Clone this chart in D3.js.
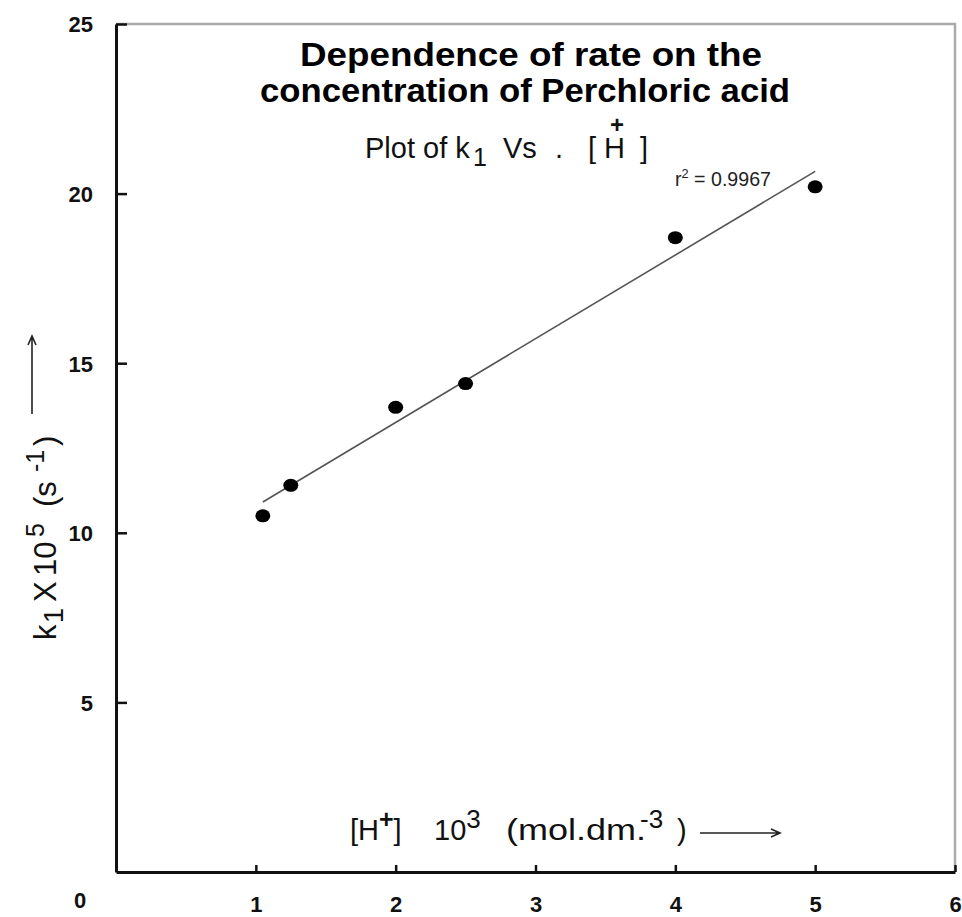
<!DOCTYPE html>
<html lang="en">
<head>
    <meta charset="UTF-8">
    <title>Dependence of rate on the concentration of Perchloric acid</title>
    <script src="https://d3js.org/d3.v7.min.js"></script>
    <style>
        body {
            margin: 0;
            background: #fff;
        }
        svg {
            display: block;
            font-family: "Liberation Sans", Arial, sans-serif;
        }
        .tick text {
            font-size: 22px;
            font-weight: bold;
            fill: #111;
        }
        .tick line {
            stroke: #111;
            stroke-width: 2.5;
        }
        .domain {
            stroke: #111;
            stroke-width: 3;
        }
    </style>
</head>
<body>

<svg id="chart"></svg>

<script>
    // [H+] x 10^3 (mol dm^-3) and k1 x 10^5 (s^-1)
    const hConc = [1.05, 1.25, 2, 2.5, 4, 5];
    const k1 = [10.5, 11.4, 13.7, 14.4, 18.7, 20.2];

    const xTicks = [1, 2, 3, 4, 5, 6];
    const yTicks = [5, 10, 15, 20, 25];
    const rSquared = "0.9967";

    const svgWidth = 962;
    const svgHeight = 917;
    const margin = {top: 24, right: 7, bottom: 45, left: 116};
    const chartWidth = svgWidth - margin.left - margin.right;
    const chartHeight = svgHeight - margin.top - margin.bottom;

    const xScale = d3.scaleLinear()
        .domain([0, 6])
        .range([0, chartWidth]);

    const yScale = d3.scaleLinear()
        .domain([0, 25])
        .range([chartHeight, 0]);

    const root = d3.select("#chart")
        .attr("width", svgWidth)
        .attr("height", svgHeight);

    const svg = root.append("g")
        .attr("transform", `translate(${margin.left},${margin.top})`);

    // grey frame on top and right
    svg.append("path")
        .attr("d", `M0,0 H${chartWidth} V${chartHeight}`)
        .attr("fill", "none")
        .attr("stroke", "#aaa")
        .attr("stroke-width", 2.5);

    svg.append("g")
        .attr("transform", `translate(0,${chartHeight})`)
        .call(d3.axisBottom(xScale).tickValues(xTicks).tickFormat(d3.format("d"))
            .tickSizeInner(-7).tickSizeOuter(0).tickPadding(24));

    svg.append("g")
        .call(d3.axisLeft(yScale).tickValues(yTicks).tickFormat(d3.format("d"))
            .tickSizeInner(-11).tickSizeOuter(0).tickPadding(23))
        .selectAll(".tick text").attr("dy", "0.36em");

    // the lone origin label sits below the corner
    svg.append("text")
        .attr("x", xScale(0) - 36)
        .attr("y", chartHeight + 36)
        .attr("text-anchor", "middle")
        .attr("font-size", 22)
        .attr("font-weight", "bold")
        .attr("fill", "#111")
        .text("0");

    // least squares line through the points
    const mx = d3.mean(hConc), my = d3.mean(k1);
    const sxy = d3.sum(hConc, (d, i) => (d - mx) * (k1[i] - my));
    const sxx = d3.sum(hConc, d => (d - mx) * (d - mx));
    const slope = sxy / sxx;
    const intercept = my - slope * mx;
    const xr = d3.extent(hConc);

    svg.append("line")
        .attr("x1", xScale(xr[0]))
        .attr("y1", yScale(intercept + slope * xr[0]))
        .attr("x2", xScale(xr[1]))
        .attr("y2", yScale(intercept + slope * xr[1]))
        .attr("stroke", "#555")
        .attr("stroke-width", 1.6);

    svg.selectAll(".pt")
        .data(hConc)
        .enter()
        .append("ellipse")
        .attr("class", "pt")
        .attr("cx", d => xScale(d))
        .attr("cy", (d, i) => yScale(k1[i]))
        .attr("rx", 7.5)
        .attr("ry", 6.5)
        .attr("fill", "#000");

    // r^2 label
    const rText = root.append("text")
        .attr("x", 675)
        .attr("y", 186)
        .attr("font-size", 20)
        .attr("textLength", 96)
        .attr("lengthAdjust", "spacingAndGlyphs")
        .attr("fill", "#222");
    rText.append("tspan").text("r");
    rText.append("tspan").attr("dy", -8).attr("font-size", 13).text("2");
    rText.append("tspan").attr("dy", 8).text(" = " + rSquared);

    // titles
    root.append("text")
        .attr("x", 531)
        .attr("y", 66)
        .attr("text-anchor", "middle")
        .attr("font-size", 33)
        .attr("font-weight", "bold")
        .attr("textLength", 462)
        .attr("lengthAdjust", "spacingAndGlyphs")
        .text("Dependence of rate on the");

    root.append("text")
        .attr("x", 525)
        .attr("y", 102)
        .attr("text-anchor", "middle")
        .attr("font-size", 33)
        .attr("font-weight", "bold")
        .attr("textLength", 530)
        .attr("lengthAdjust", "spacingAndGlyphs")
        .text("concentration of Perchloric acid");

    const sub = root.append("text")
        .attr("y", 158)
        .attr("font-size", 29)
        .attr("fill", "#111");
    sub.append("tspan").attr("x", 365).text("Plot of k");
    sub.append("tspan").attr("x", 473).attr("dy", 8).attr("font-size", 25).text("1");
    sub.append("tspan").attr("x", 503).attr("dy", -8).text("Vs");
    sub.append("tspan").attr("x", 555).text(".");
    sub.append("tspan").attr("x", 588).text("[");
    sub.append("tspan").attr("x", 604).text("H");
    sub.append("tspan").attr("x", 640).text("]");
    root.append("text")
        .attr("x", 617)
        .attr("y", 133)
        .attr("text-anchor", "middle")
        .attr("font-size", 24)
        .attr("font-weight", "bold")
        .attr("fill", "#111")
        .text("+");

    // x axis title with arrow
    const xLab = root.append("text")
        .attr("y", 840)
        .attr("font-size", 29)
        .attr("fill", "#111");
    xLab.append("tspan").attr("x", 350).text("[H");
    xLab.append("tspan").attr("dy", -12).attr("font-size", 25).attr("font-weight", "bold").text("+");
    xLab.append("tspan").attr("dy", 12).text("]");
    xLab.append("tspan").attr("x", 434).text("10");
    xLab.append("tspan").attr("dy", -12).attr("font-size", 26).text("3");
    root.append("text")
        .attr("x", 506)
        .attr("y", 840)
        .attr("font-size", 29)
        .attr("textLength", 140)
        .attr("lengthAdjust", "spacingAndGlyphs")
        .attr("fill", "#111")
        .text("(mol.dm.");
    const xLab2 = root.append("text")
        .attr("y", 840)
        .attr("font-size", 29)
        .attr("fill", "#111");
    xLab2.append("tspan").attr("x", 640).attr("dy", -12).attr("font-size", 26).text("-3");
    xLab2.append("tspan").attr("x", 677).attr("dy", 12).text(")");
    const ax0 = 700, ay = 833;
    root.append("path")
        .attr("d", `M${ax0},${ay} H${ax0 + 80} M${ax0 + 71},${ay - 4} L${ax0 + 80},${ay} L${ax0 + 71},${ay + 4}`)
        .attr("fill", "none")
        .attr("stroke", "#222")
        .attr("stroke-width", 1.6);

    // y axis title with arrow (rotated, reading upwards)
    const yLab = root.append("text")
        .attr("transform", "translate(56,640) rotate(-90)")
        .attr("font-size", 31)
        .attr("fill", "#111");
    yLab.append("tspan").attr("x", 0).text("k");
    yLab.append("tspan").attr("x", 17).attr("dy", 7).attr("font-size", 27).text("1");
    yLab.append("tspan").attr("x", 38).attr("dy", -7).text("X");
    yLab.append("tspan").attr("x", 64).text("10");
    yLab.append("tspan").attr("x", 103).attr("dy", -12).attr("font-size", 25).text("5");
    yLab.append("tspan").attr("x", 133).attr("dy", 12).text("(s");
    yLab.append("tspan").attr("x", 168).attr("dy", -12).attr("font-size", 25).text("-1");
    yLab.append("tspan").attr("x", 194).attr("dy", 12).text(")");
    root.append("path")
        .attr("d", "M32,414 V336 M28,345 L32,336 L36,345")
        .attr("fill", "none")
        .attr("stroke", "#222")
        .attr("stroke-width", 1.6);
</script>

</body>
</html>
